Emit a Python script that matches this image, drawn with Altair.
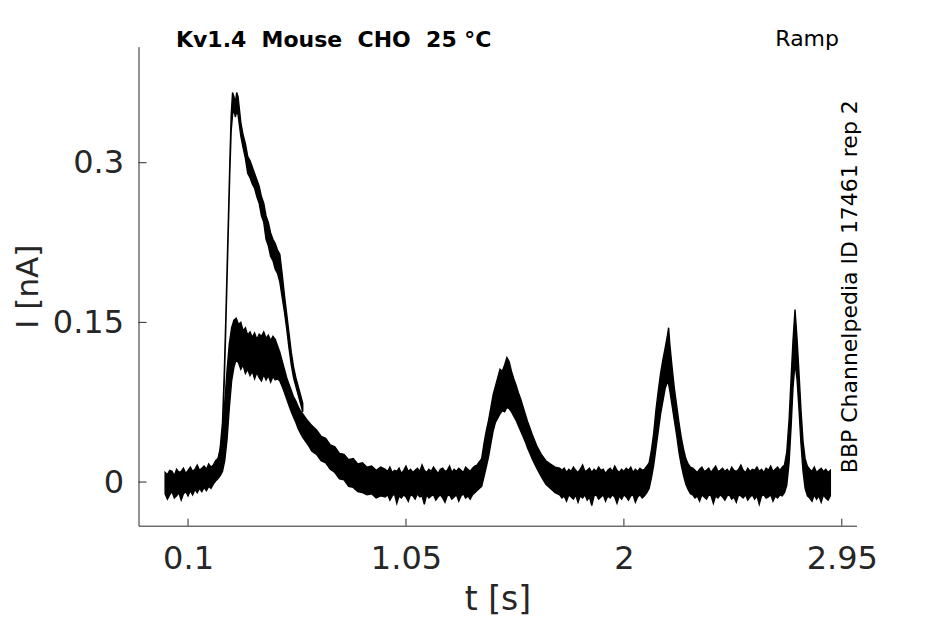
import altair as alt
import pandas as pd

# ---- overlapped sweeps: time [s], lower / upper edge of the noisy band [nA] ----
band_t = [
    # pre-ramp baseline
    0.00, 0.01, 0.02, 0.03, 0.04, 0.05, 0.06, 0.07, 0.08, 0.09, 0.10, 0.11,
    0.12, 0.13, 0.14, 0.15, 0.16, 0.17, 0.18, 0.19, 0.20, 0.21, 0.22,
    # first response
    0.23, 0.24, 0.25, 0.26, 0.27, 0.28, 0.29, 0.30, 0.31, 0.32, 0.33, 0.34,
    0.35, 0.36, 0.37, 0.38, 0.39, 0.40, 0.41, 0.42, 0.43, 0.44, 0.45, 0.46,
    0.47, 0.48, 0.49, 0.50, 0.51, 0.52, 0.53, 0.54, 0.55, 0.56, 0.57, 0.58,
    0.59, 0.60,
    0.62, 0.64, 0.66, 0.68, 0.70, 0.72, 0.74, 0.76, 0.78, 0.80, 0.82, 0.84,
    0.86, 0.88, 0.90, 0.92, 0.94,
    # baseline
    0.96, 0.97, 0.98, 0.99, 1.00, 1.01, 1.02, 1.03, 1.04, 1.05,
    1.06, 1.07, 1.08, 1.09, 1.10, 1.11, 1.12, 1.13, 1.14, 1.15,
    1.16, 1.17, 1.18, 1.19, 1.20, 1.21, 1.22, 1.23, 1.24, 1.25,
    1.26, 1.27, 1.28, 1.29, 1.30, 1.31, 1.32, 1.33, 1.34, 1.35,
    # second peak
    1.36, 1.38, 1.39, 1.40, 1.41, 1.42, 1.43, 1.44, 1.45, 1.46, 1.47, 1.48,
    1.49, 1.50, 1.51, 1.52, 1.53, 1.54, 1.55, 1.56, 1.57, 1.58, 1.59, 1.60,
    1.62, 1.64, 1.66, 1.68, 1.70, 1.72,
    # baseline
    1.73, 1.74, 1.75, 1.76, 1.77, 1.78, 1.79, 1.80, 1.81, 1.82,
    1.83, 1.84, 1.85, 1.86, 1.87, 1.88, 1.89, 1.90, 1.91, 1.92,
    1.93, 1.94, 1.95, 1.96, 1.97, 1.98, 1.99, 2.00, 2.01, 2.02,
    2.03, 2.04, 2.05, 2.06, 2.07, 2.08, 2.09, 2.10,
    # third peak
    2.11, 2.12, 2.13, 2.14, 2.15, 2.16, 2.17, 2.18, 2.19, 2.195, 2.20, 2.21,
    2.22, 2.23, 2.24, 2.25, 2.26, 2.27, 2.28, 2.29,
    # baseline
    2.30, 2.31, 2.32, 2.33, 2.34, 2.35, 2.36, 2.37, 2.38, 2.39,
    2.40, 2.41, 2.42, 2.43, 2.44, 2.45, 2.46, 2.47, 2.48, 2.49,
    2.50, 2.51, 2.52, 2.53, 2.54, 2.55, 2.56, 2.57, 2.58, 2.59,
    2.60, 2.61, 2.62, 2.63, 2.64, 2.65, 2.66, 2.67, 2.68, 2.69,
    # fourth peak
    2.70, 2.71, 2.72, 2.729, 2.737, 2.746, 2.755, 2.764, 2.772, 2.781, 2.79, 2.80,
    # tail
    2.81, 2.82, 2.83, 2.84, 2.85, 2.86, 2.87, 2.88, 2.89, 2.90,
]
band_hi = [
    0.009, 0.007, 0.011, 0.010, 0.006, 0.012, 0.009, 0.010, 0.013, 0.008, 0.011, 0.014,
    0.010, 0.012, 0.016, 0.011, 0.013, 0.015, 0.012, 0.017, 0.014, 0.016, 0.020,
    0.022, 0.030, 0.045, 0.075, 0.105, 0.130, 0.145, 0.152, 0.154, 0.148, 0.150, 0.142,
    0.145, 0.138, 0.141, 0.136, 0.140, 0.134, 0.139, 0.137, 0.141, 0.135, 0.138, 0.133,
    0.137, 0.134, 0.128, 0.122, 0.114, 0.106, 0.098, 0.092, 0.086, 0.080, 0.076, 0.071,
    0.067, 0.064,
    0.058, 0.053, 0.049, 0.043, 0.041, 0.035, 0.033, 0.027, 0.026, 0.021, 0.022, 0.017,
    0.018, 0.014, 0.015, 0.011, 0.014,
    0.012, 0.010, 0.014, 0.009, 0.011, 0.010, 0.013, 0.008, 0.011, 0.015,
    0.010, 0.012, 0.009, 0.011, 0.013, 0.010, 0.016, 0.011, 0.009, 0.012,
    0.010, 0.014, 0.011, 0.008, 0.012, 0.013, 0.010, 0.011, 0.015, 0.009,
    0.012, 0.010, 0.013, 0.011, 0.009, 0.014, 0.012, 0.010, 0.013, 0.015,
    0.016, 0.022, 0.036, 0.048, 0.058, 0.070, 0.082, 0.090, 0.098, 0.106, 0.104, 0.110,
    0.117, 0.113, 0.104, 0.097, 0.091, 0.084, 0.078, 0.071, 0.064, 0.057, 0.051, 0.045,
    0.034, 0.026, 0.020, 0.017, 0.014, 0.013,
    0.011, 0.013, 0.009, 0.012, 0.010, 0.014, 0.011, 0.009, 0.012, 0.016,
    0.010, 0.011, 0.013, 0.009, 0.012, 0.010, 0.014, 0.011, 0.012, 0.008,
    0.011, 0.013, 0.010, 0.015, 0.011, 0.009, 0.012, 0.010, 0.013, 0.011,
    0.014, 0.009, 0.012, 0.010, 0.013, 0.011, 0.012, 0.015,
    0.018, 0.030, 0.046, 0.068, 0.086, 0.102, 0.115, 0.126, 0.138, 0.145, 0.130, 0.108,
    0.088, 0.072, 0.056, 0.042, 0.031, 0.022, 0.017, 0.014,
    0.013, 0.011, 0.009, 0.012, 0.014, 0.010, 0.011, 0.013, 0.009, 0.012,
    0.015, 0.010, 0.011, 0.013, 0.010, 0.012, 0.009, 0.014, 0.011, 0.010,
    0.012, 0.016, 0.011, 0.009, 0.013, 0.010, 0.012, 0.011, 0.014, 0.010,
    0.012, 0.009, 0.013, 0.011, 0.015, 0.010, 0.012, 0.014, 0.011, 0.014,
    0.016, 0.028, 0.058, 0.098, 0.132, 0.162, 0.134, 0.100, 0.068, 0.038, 0.022, 0.015,
    0.012, 0.010, 0.014, 0.009, 0.011, 0.013, 0.010, 0.012, 0.009, 0.011,
]
band_lo = [
    -0.011, -0.016, -0.012, -0.009, -0.015, -0.013, -0.010, -0.017, -0.011, -0.009, -0.013, -0.008,
    -0.012, -0.007, -0.010, -0.006, -0.009, -0.005, -0.008, -0.004, -0.006, -0.002, 0.001,
    0.003, 0.006, 0.010, 0.020, 0.040, 0.070, 0.095, 0.108, 0.115, 0.112, 0.106, 0.110,
    0.102, 0.106, 0.100, 0.104, 0.097, 0.103, 0.098, 0.095, 0.101, 0.096, 0.100, 0.094,
    0.099, 0.096, 0.097, 0.095, 0.090, 0.084, 0.078, 0.072, 0.066, 0.061, 0.056, 0.050,
    0.046, 0.042,
    0.036, 0.029, 0.026, 0.020, 0.018, 0.012, 0.009, 0.003, 0.002, -0.004, -0.005, -0.009,
    -0.010, -0.012, -0.011, -0.015, -0.013,
    -0.014, -0.012, -0.017, -0.013, -0.011, -0.020, -0.013, -0.015, -0.012, -0.014,
    -0.018, -0.012, -0.013, -0.016, -0.011, -0.014, -0.013, -0.021, -0.012, -0.015,
    -0.013, -0.012, -0.017, -0.014, -0.012, -0.015, -0.019, -0.013, -0.012, -0.016,
    -0.014, -0.012, -0.018, -0.013, -0.011, -0.015, -0.013, -0.016, -0.012, -0.010,
    -0.008, -0.004, 0.005, 0.014, 0.024, 0.036, 0.048, 0.056, 0.060, 0.064, 0.067, 0.066,
    0.070, 0.069, 0.066, 0.062, 0.058, 0.053, 0.048, 0.043, 0.038, 0.032, 0.027, 0.022,
    0.013, 0.005, -0.002, -0.006, -0.010, -0.012,
    -0.015, -0.013, -0.018, -0.012, -0.014, -0.016, -0.012, -0.019, -0.013, -0.015,
    -0.012, -0.017, -0.014, -0.022, -0.013, -0.012, -0.016, -0.014, -0.012, -0.018,
    -0.013, -0.015, -0.012, -0.014, -0.020, -0.013, -0.016, -0.012, -0.014, -0.017,
    -0.013, -0.012, -0.019, -0.014, -0.012, -0.015, -0.013, -0.010,
    -0.006, 0.004, 0.016, 0.032, 0.048, 0.064, 0.076, 0.088, 0.094, 0.092, 0.086, 0.072,
    0.058, 0.044, 0.028, 0.016, 0.006, -0.002, -0.007, -0.011,
    -0.012, -0.015, -0.013, -0.018, -0.012, -0.014, -0.016, -0.012, -0.013, -0.020,
    -0.013, -0.015, -0.012, -0.014, -0.017, -0.013, -0.012, -0.016, -0.014, -0.019,
    -0.012, -0.013, -0.015, -0.012, -0.017, -0.014, -0.012, -0.016, -0.013, -0.021,
    -0.013, -0.012, -0.015, -0.014, -0.012, -0.018, -0.013, -0.015, -0.012, -0.013,
    -0.010, -0.003, 0.018, 0.052, 0.088, 0.112, 0.096, 0.066, 0.036, 0.010, -0.006, -0.013,
    -0.015, -0.018, -0.012, -0.016, -0.013, -0.019, -0.012, -0.015, -0.017, -0.013,
]

# ---- the one sweep with the large first transient ----
high_t = [
    0.22, 0.23, 0.24, 0.25, 0.258, 0.264, 0.27, 0.276, 0.282, 0.288, 0.294, 0.30,
    0.306, 0.312, 0.318, 0.324, 0.33, 0.34, 0.35, 0.36, 0.37, 0.38, 0.39, 0.40,
    0.41, 0.42, 0.43, 0.44, 0.45, 0.46, 0.47, 0.48, 0.49, 0.50, 0.51, 0.52,
    0.53, 0.54, 0.55, 0.56, 0.57, 0.58, 0.59, 0.60,
]
high_lo = [
    0.008, 0.012, 0.025, 0.048, 0.095, 0.140, 0.190, 0.240, 0.290, 0.330, 0.345, 0.350,
    0.343, 0.348, 0.345, 0.335, 0.325, 0.314, 0.304, 0.290, 0.286, 0.280, 0.276, 0.268,
    0.262, 0.250, 0.244, 0.228, 0.222, 0.212, 0.208, 0.200, 0.196, 0.188, 0.174, 0.160,
    0.144, 0.126, 0.110, 0.098, 0.090, 0.082, 0.074, 0.066,
]
high_hi = [
    0.014, 0.018, 0.032, 0.056, 0.104, 0.150, 0.200, 0.250, 0.300, 0.345, 0.366, 0.362,
    0.356, 0.366, 0.362, 0.350, 0.338, 0.326, 0.318, 0.306, 0.302, 0.296, 0.290, 0.284,
    0.278, 0.268, 0.262, 0.250, 0.244, 0.234, 0.228, 0.224, 0.218, 0.214, 0.196, 0.176,
    0.158, 0.140, 0.122, 0.108, 0.098, 0.090, 0.082, 0.074,
]

x_ticks = [0.1, 1.05, 2, 2.95]
y_ticks = [0, 0.15, 0.3]
title_left = "Kv1.4  Mouse  CHO  25 °C"
title_right = "Ramp"
side_note = "BBP Channelpedia ID 17461 rep 2"

band = pd.DataFrame({"t": band_t, "lo": band_lo, "hi": band_hi})
high = pd.DataFrame({"t": high_t, "lo": high_lo, "hi": high_hi})

W, H = 718, 479
AX = "#262626"
FONT = "DejaVu Sans"
xs = alt.Scale(domain=[-0.116, 3.014], nice=False, zero=False)
ys = alt.Scale(domain=[-0.041, 0.409], nice=False, zero=False)

x_axis = alt.Axis(values=x_ticks, format=".3~g", title="t [s]", grid=False,
                  ticks=False, tickSize=0, domainColor=AX, domainWidth=1,
                  labelColor=AX, labelFont=FONT, labelFontSize=32, labelPadding=18,
                  labelFlush=False, titleFont=FONT, titleFontSize=33,
                  titleFontWeight="normal", titleColor=AX, titlePadding=9)
y_axis = alt.Axis(values=y_ticks, format=".3~g", title="I [nA]", grid=False,
                  ticks=False, tickSize=0, domainColor=AX, domainWidth=1,
                  labelColor=AX, labelFont=FONT, labelFontSize=32, labelPadding=15,
                  labelFlush=False, titleFont=FONT, titleFontSize=31,
                  titleFontWeight="normal", titleColor=AX, titlePadding=8)

band_layer = alt.Chart(band).mark_area(
    color="black", stroke="black", strokeWidth=1.4, orient="vertical"
).encode(
    x=alt.X("t:Q", scale=xs, axis=x_axis),
    y=alt.Y("hi:Q", scale=ys, axis=y_axis),
    y2="lo:Q",
)
high_layer = alt.Chart(high).mark_area(
    color="black", stroke="black", strokeWidth=1.4, orient="vertical"
).encode(
    x=alt.X("t:Q", scale=xs),
    y=alt.Y("hi:Q", scale=ys),
    y2="lo:Q",
)

ytick_layer = alt.Chart(pd.DataFrame({"v": y_ticks})).mark_rule(
    color=AX, strokeWidth=1
).encode(y=alt.Y("v:Q", scale=ys), x=alt.value(0), x2=alt.value(8))
xtick_layer = alt.Chart(pd.DataFrame({"v": x_ticks})).mark_rule(
    color=AX, strokeWidth=1
).encode(x=alt.X("v:Q", scale=xs), y=alt.value(H), y2=alt.value(H - 7))

# SVG collapses repeated spaces; keep the wide gaps with non-breaking spaces
t_left = alt.Chart(pd.DataFrame({"s": [title_left.replace("  ", "\u00a0 ")]})).mark_text(
    font=FONT, fontSize=22, fontWeight="bold", color="black",
    align="left", baseline="alphabetic"
).encode(x=alt.value(37.5), y=alt.value(0.3), text="s:N")
t_right = alt.Chart(pd.DataFrame({"s": [title_right]})).mark_text(
    font=FONT, fontSize=22, color="black", align="right", baseline="alphabetic"
).encode(x=alt.value(700.5), y=alt.value(-0.7), text="s:N")
t_side = alt.Chart(pd.DataFrame({"s": [side_note]})).mark_text(
    font=FONT, fontSize=22, color="black", align="center",
    baseline="alphabetic", angle=270
).encode(x=alt.value(718.5), y=alt.value(240), text="s:N")

chart = alt.layer(
    band_layer, high_layer, ytick_layer, xtick_layer, t_left, t_right, t_side
).properties(
    width=W, height=H,
    padding={"left": 130.5, "top": 38.7, "right": 78, "bottom": 97},
    autosize=alt.AutoSizeParams(type="none"),
).configure_view(stroke=None)

chart.save("out.html", embed_options={"renderer": "svg", "actions": False})
